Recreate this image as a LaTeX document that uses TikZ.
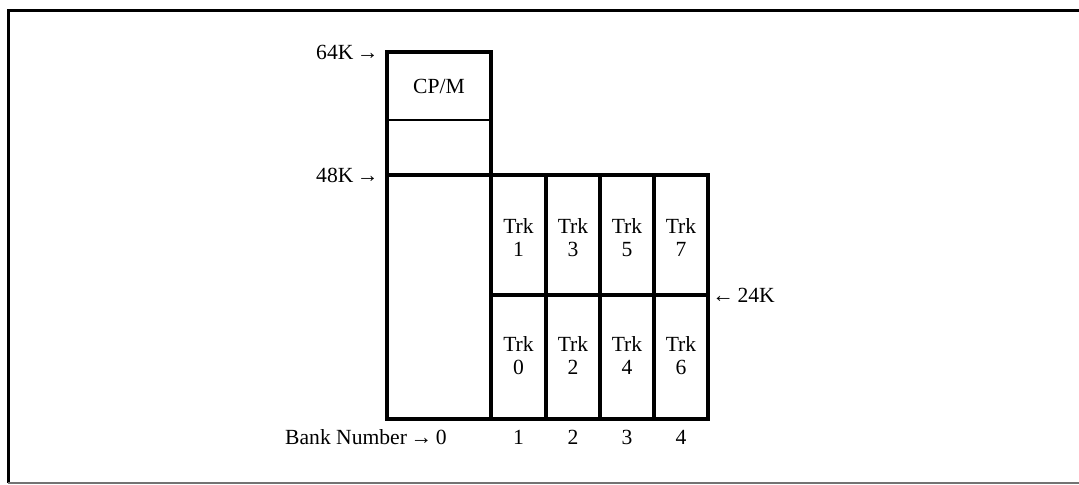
\documentclass[tikz,border=0pt]{standalone}
\usepackage{fontspec}
\setmainfont{Liberation Serif}
\begin{document}
\begin{tikzpicture}[x=0.5pt,y=-0.5pt,
  box/.style={line width=1.6pt},
  lbl/.style={inner sep=0pt, align=center, font=\fontsize{10.8}{11.5}\selectfont}]
\useasboundingbox (0,0) rectangle (1079,485);
% Frame
\draw[line width=1.5pt] (1079,11) -- (8,11) -- (8,483);
\draw[line width=0.7pt, black!55] (8,483) -- (1079,483);

% Bank 0
\draw[box] (387,52) rectangle (491,419);
\draw[line width=1pt] (387,120) -- (491,120);
\draw[box] (387,175) -- (491,175);
\node[lbl] (cpm) at (439,86) {CP/M};

% Banks 1 to 4
\draw[box] (491,175) rectangle (708,419);
\draw[box] (491,295) -- (708,295);
\foreach \x in {546,600,654} {
    \draw[box] (\x,175) -- (\x,419);
}
\foreach \x/\b/\lo/\hi in {518.5/1/0/1, 573/2/2/3, 627/3/4/5, 681/4/6/7} {
    \node[lbl] (trk\hi) at (\x,238) {Trk\\\hi};
    \node[lbl] (trk\lo) at (\x,356) {Trk\\\lo};
    \node[lbl] (bank\b) at (\x,437) {\b};
}

% Addresses
\node[lbl, anchor=east] (k64) at (379,52) {64K\,→};
\node[lbl, anchor=east] (k48) at (379,175) {48K\,→};
\node[lbl, anchor=west] (k24) at (712,295) {←\,24K};
\node[lbl, anchor=east] (bank0) at (447,437) {Bank Number\,→\,0};
\end{tikzpicture}
\end{document}
